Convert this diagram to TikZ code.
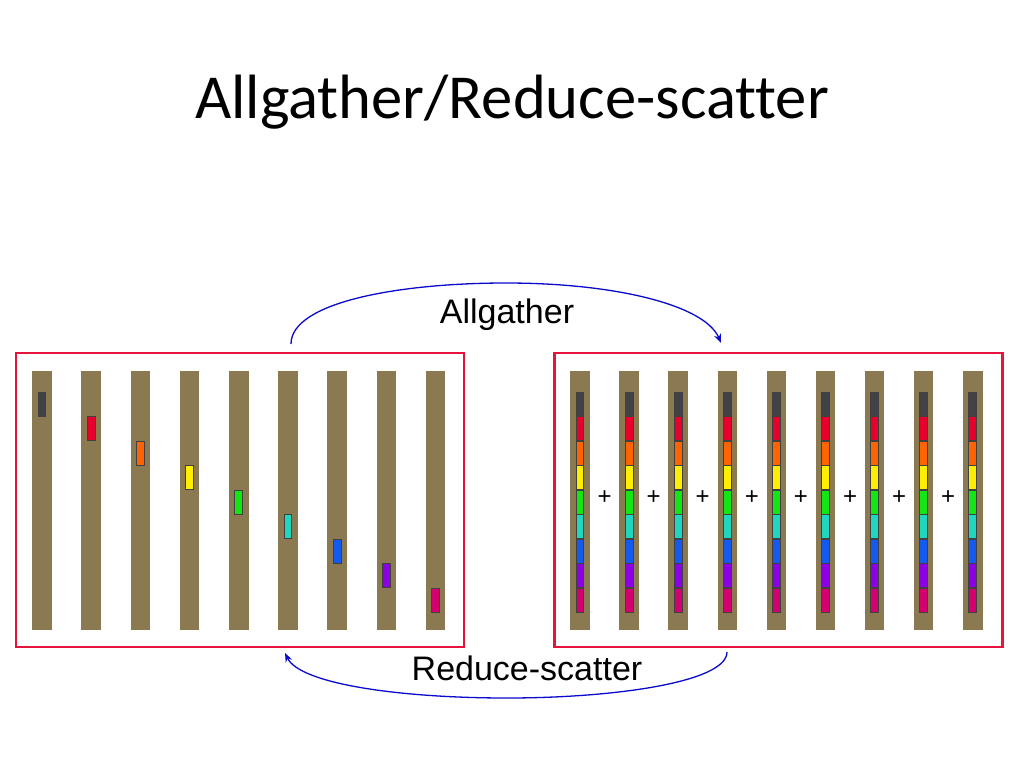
\documentclass[tikz,border=0pt]{standalone}
\usepackage{fontspec}
\setmainfont{Liberation Sans}
\newfontfamily\titlefont[Ligatures=NoCommon]{Carlito}
\usetikzlibrary{arrows.meta}
\definecolor{barc}{RGB}{139,121,82}
\definecolor{boxred}{RGB}{230,20,60}
\definecolor{arrblue}{RGB}{10,10,205}
\definecolor{c0}{RGB}{66,66,70}
\definecolor{c1}{RGB}{232,0,44}
\definecolor{c2}{RGB}{255,100,0}
\definecolor{c3}{RGB}{255,238,0}
\definecolor{c4}{RGB}{20,230,20}
\definecolor{c5}{RGB}{30,215,190}
\definecolor{c6}{RGB}{20,90,240}
\definecolor{c7}{RGB}{140,0,230}
\definecolor{c8}{RGB}{212,0,112}
\begin{document}
\begin{tikzpicture}[x=1pt,y=-1pt,
  panel/.style={draw=boxred, line width=2.7pt, rectangle, minimum width=447.8pt, minimum height=293.8pt, inner sep=0pt, anchor=north west},
  bar/.style={fill=barc, rectangle, minimum width=19.5pt, minimum height=259pt, inner sep=0pt, anchor=north},
  blk/.style={fill=#1, draw=black!75, line width=1pt, rectangle, minimum width=7.8pt, minimum height=24pt, inner sep=0pt, anchor=north},
  lbl/.style={font=\fontsize{34}{40}\selectfont, anchor=base, inner sep=0pt},
  plus/.style={font=\fontsize{24}{28}\selectfont, inner sep=0pt},
  conn/.style={draw=arrblue, line width=1.3pt, -{Stealth[length=9pt,width=7pt]}}]
\useasboundingbox (0,0) rectangle (1024,768);
\fill[white] (0,0) rectangle (1024,768);
% title
\node[anchor=base, inner sep=0pt, font=\titlefont\fontsize{62.6}{70}\selectfont] (title) at (512,118) {Allgather/Reduce-scatter};
% panels
\node[panel] (L) at (14.7,351.7) {};
\node[panel] (R) at (553,351.7) {};
% left bars with one block each
\foreach \j in {0,...,8} {
  \node[bar] (lb\j) at ({42+49.2*\j},371) {};
  \node[blk=c\j] (lk\j) at ({42+49.2*\j},{391.8+24.5*\j}) {};
}
% right bars with all blocks
\foreach \j in {0,...,8} {
  \node[bar] (rb\j) at ({580+49.1*\j},371) {};
  \foreach \i in {0,...,8} {
    \node[blk=c\i] (rk\j-\i) at ({580+49.1*\j},{391.8+24.5*\i}) {};
  }
}
% plus signs
\foreach \j in {0,...,7} {
  \node[plus] (p\j) at ({604.5+49.1*\j},497.5) {+};
}
% arrows
\coordinate (agS) at (291,344);
\coordinate (agM) at (506,283);
\coordinate (agE) at (721,343);
\coordinate (rsS) at (727,652);
\coordinate (rsM) at (507,698);
\coordinate (rsE) at (285,653);
\draw[conn] (agS) .. controls (291,302) and (400,283) .. (agM) .. controls (615,283) and (705,305) .. (agE);
\draw[conn] (rsS) .. controls (727,682) and (615,698) .. (rsM) .. controls (400,698) and (300,684) .. (rsE);
\node[lbl] (agl) at (507,323) {Allgather};
\node[lbl] (rsl) at (527,680) {Reduce-scatter};
\end{tikzpicture}
\end{document}
